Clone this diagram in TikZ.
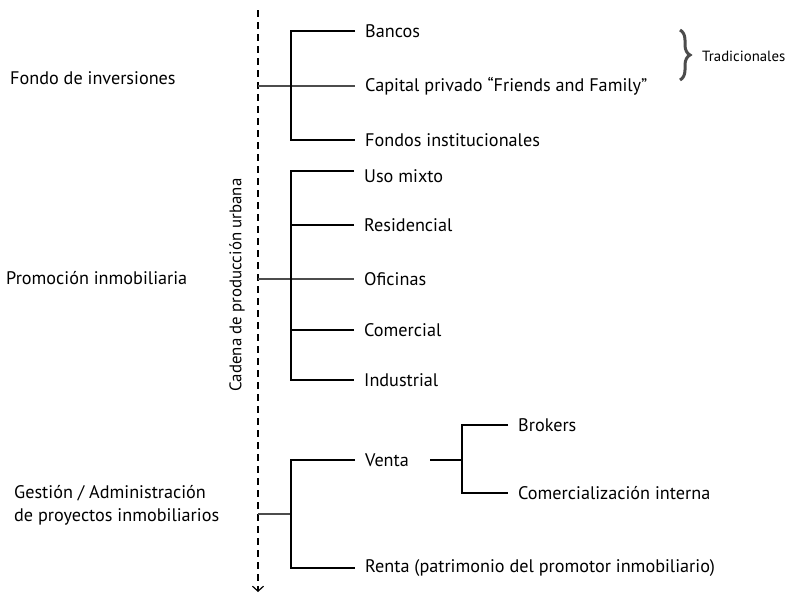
\documentclass[tikz,border=0pt]{standalone}
\usepackage{fontspec}
\setmainfont{PT Sans}
\usetikzlibrary{arrows.meta,decorations.pathreplacing}

\tikzset{
  item/.style={anchor=west, inner xsep=10pt, inner ysep=2pt},
  stage/.style={anchor=west, inner sep=0pt, align=left},
  branch/.style={line width=1.1pt, black},
  stem/.style={line width=1.1pt, black!70},
}

\begin{document}
\begin{tikzpicture}[x=1pt,y=-1pt,font=\fontsize{18.2}{23}\selectfont]
\useasboundingbox (0,0) rectangle (790,597);

% eje
\coordinate (top) at (258,10);
\coordinate (bot) at (258,592);
\draw[line width=1.2pt, dash pattern=on 7pt off 5pt, -{Straight Barb[length=5pt,width=11pt]}] (top) -- (bot);
\node[rotate=90, font=\fontsize{16.8}{20}\selectfont] (cadena) at (237,285) {Cadena de producción urbana};

% etapas
\node[stage] (fondo) at (10,78) {Fondo de inversiones};
\node[stage] (promo) at (6,278) {Promoción inmobiliaria};
\node[stage] (gestion) at (14,505) {Gestión / Administración\\de proyectos inmobiliarios};

% fondo de inversiones
\node[item] (bancos) at (355,31) {Bancos};
\node[item] (capital) at (355,86) {Capital privado “Friends and Family”};
\node[item] (fondos) at (355,140) {Fondos institucionales};
\coordinate (a0) at (258,86);
\coordinate (a1) at (291,31);
\coordinate (a2) at (291,140);
\draw[stem] (a0) -- (capital.west);
\draw[branch] (bancos.west) -- (a1) -- (a2) -- (fondos.west);

\draw[decorate, decoration={brace, amplitude=10pt}, line width=3pt, black!70] (680,30) -- (680,80);
\node[anchor=west, inner sep=0pt, font=\fontsize{14.8}{17}\selectfont] (trad) at (702,56) {Tradicionales};

% promoción inmobiliaria
\node[item] (mixto) at (354,176) {Uso mixto};
\node[item] (resid) at (354,225) {Residencial};
\node[item] (ofic) at (354,279) {Oficinas};
\node[item] (comer) at (354,330) {Comercial};
\node[item] (indus) at (354,380) {Industrial};
\coordinate (b0) at (258,279);
\coordinate (b1) at (291,171);
\coordinate (b2) at (291,380);
\draw[stem] (b0) -- (ofic.west);
\draw[branch] ([yshift=5pt]mixto.west) -- (b1) -- (b2) -- (indus.west);
\draw[branch] (resid.west) -- (resid.west -| b1);
\draw[branch] (comer.west) -- (comer.west -| b1);

% gestión
\node[item] (venta) at (355,460) {Venta};
\node[item] (renta) at (355,568) {Renta (patrimonio del promotor inmobiliario)};
\coordinate (c0) at (258,514);
\coordinate (c1) at (291,514);
\draw[stem] (c0) -- (c1);
\draw[branch] (venta.west) -- (venta.west -| c1) -- (renta.west -| c1) -- (renta.west);

\node[item] (brokers) at (508,425) {Brokers};
\node[item] (interna) at (508,493) {Comercialización interna};
\coordinate (d1) at (462,460);
\draw[branch] ([xshift=11pt]venta.east) -- (d1);
\draw[branch] (brokers.west) -- (brokers.west -| d1) -- (interna.west -| d1) -- (interna.west);

\end{tikzpicture}
\end{document}
